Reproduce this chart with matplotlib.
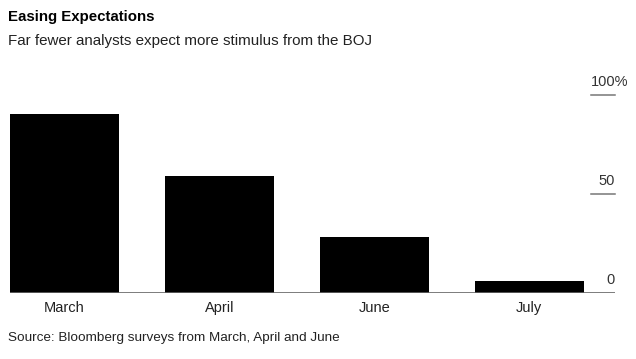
import matplotlib.pyplot as plt

plt.rcParams['font.family'] = ['Liberation Sans', 'DejaVu Sans']

meses = ["March", "April", "June", "July"]
porcentagens = [90, 59, 28, 6]
ticks_y = [0, 50, 100]
rotulos_y = ["0", "50", "100%"]

fig = plt.figure(figsize=(6.36, 3.59), dpi=100)
ax = fig.add_axes([10 / 636, 66 / 359, 605 / 636, 198.5 / 359])

x = range(len(meses))
ax.bar(x, porcentagens, width=0.7, color="black")
ax.set_xlim(-0.35, 3.553)
ax.set_ylim(0, 100)

for s in ax.spines.values():
    s.set_visible(False)
ax.set_yticks([])
ax.set_xticks(list(x))
ax.set_xticklabels(meses, fontsize=10.5, color="#222222")
ax.tick_params(axis="x", length=0, pad=6)

# linha de base e marcas curtas do eixo y
ax.axhline(0, color="#666666", lw=1.2, zorder=3)
for v, r in zip(ticks_y, rotulos_y):
    if v != 0:
        ax.axhline(v, xmin=0.96, xmax=1.0, color="#777777", lw=1.1, clip_on=False)
    # o "%" fica para fora da margem direita
    xr = 1.0215 if r.endswith("%") else 1.0
    ax.text(xr, v + 6.5, r, transform=ax.get_yaxis_transform(), ha="right",
            va="center", fontsize=10.5, color="#333333")

fig.text(8 / 636, 1 - 17 / 359, "Easing Expectations", fontsize=10.8, fontweight="bold",
         va="center", color="black")
fig.text(8 / 636, 1 - 40.5 / 359, "Far fewer analysts expect more stimulus from the BOJ",
         fontsize=10.9, va="center", color="#222222")
fig.text(8 / 636, 1 - 338 / 359, "Source: Bloomberg surveys from March, April and June",
         fontsize=9.7, va="center", color="#222222")

fig.savefig("out.png", dpi=100)
